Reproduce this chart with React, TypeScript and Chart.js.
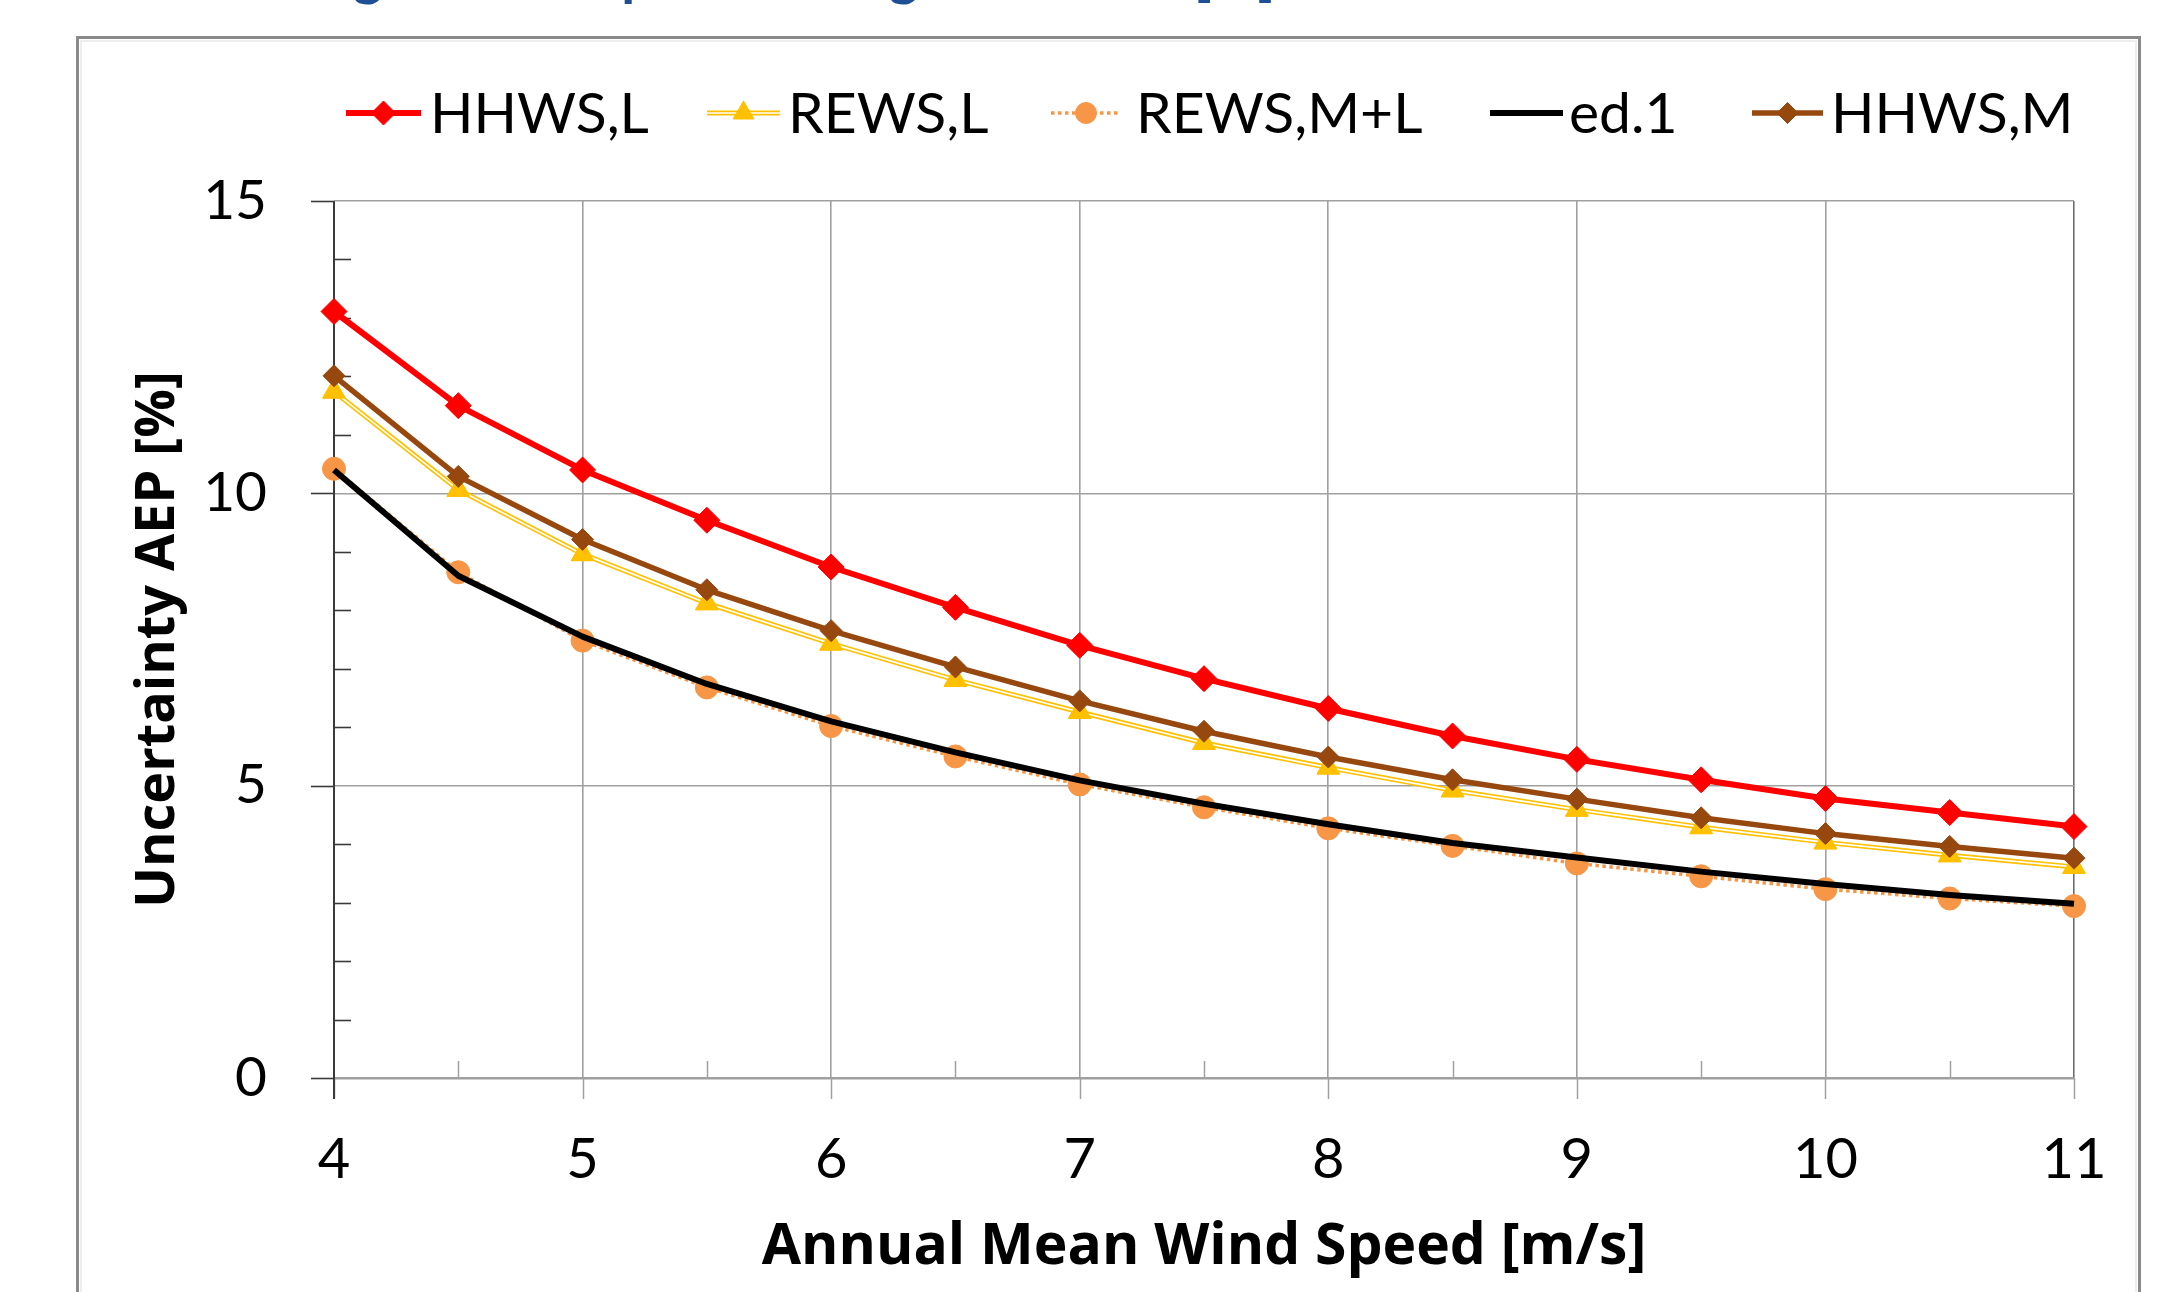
import React, { useEffect, useRef } from 'react';
import { Chart, registerables } from 'chart.js';

Chart.register(...registerables);

// ---------------- data ----------------
const windSpeed = [4, 4.5, 5, 5.5, 6, 6.5, 7, 7.5, 8, 8.5, 9, 9.5, 10, 10.5, 11];
const hhwsL = [13.11, 11.5, 10.4, 9.54, 8.74, 8.05, 7.4, 6.83, 6.32, 5.85, 5.45, 5.1, 4.78, 4.54, 4.3];
const rewsL = [11.74, 10.06, 8.96, 8.12, 7.43, 6.81, 6.26, 5.73, 5.31, 4.92, 4.59, 4.29, 4.03, 3.81, 3.61];
const rewsML = [10.42, 8.65, 7.48, 6.68, 6.02, 5.5, 5.02, 4.63, 4.27, 3.97, 3.67, 3.45, 3.23, 3.07, 2.94];
const ed1 = [10.4, 8.59, 7.55, 6.74, 6.1, 5.57, 5.09, 4.69, 4.34, 4.02, 3.77, 3.53, 3.32, 3.13, 2.98];
const hhwsM = [12.01, 10.29, 9.21, 8.35, 7.65, 7.03, 6.45, 5.93, 5.49, 5.1, 4.77, 4.45, 4.18, 3.96, 3.76];

const seriesLabels = ['HHWS,L', 'REWS,L', 'REWS,M+L', 'ed.1', 'HHWS,M'];
const seriesValues = [hhwsL, rewsL, rewsML, ed1, hhwsM];

const xTickValues = [4, 5, 6, 7, 8, 9, 10, 11];
const xMinorTickValues = [4.5, 5.5, 6.5, 7.5, 8.5, 9.5, 10.5];
const yTickValues = [0, 5, 10, 15];
const yMinorTickValues = [1, 2, 3, 4, 6, 7, 8, 9, 11, 12, 13, 14];

const xAxisTitle = 'Annual Mean Wind Speed [m/s]';
const yAxisTitle = 'Uncertainty AEP [%]';
const topTitle = 'Lidar testing of the impact of long-term AEP [%]';

// ---------------- styles / layout ----------------
const FONT = "Lato, 'Liberation Sans', sans-serif";
const TITLE_FONT = "'Open Sans', Lato, sans-serif";
const W = 2173;
const H = 1292;

type SeriesStyle = {
  color: string;
  width: number;
  dash: number[];
  point: string | false;
  radius: number;
  legendRadius: number;
  doubleLine?: boolean;
};

const STYLES: SeriesStyle[] = [
  { color: '#FF0000', width: 6, dash: [], point: 'rectRot', radius: 13, legendRadius: 12 },
  { color: '#FFC000', width: 5, dash: [], point: 'triangle', radius: 13, legendRadius: 12, doubleLine: true },
  { color: '#F79646', width: 3.5, dash: [3.5, 3.5], point: 'circle', radius: 11.5, legendRadius: 10.5 },
  { color: '#000000', width: 6, dash: [], point: false, radius: 0, legendRadius: 0 },
  { color: '#97480F', width: 5.5, dash: [], point: 'rectRot', radius: 11, legendRadius: 10.5 },
];
// drawing order: later legend entries on top
const DRAW_ORDER = [5, 4, 3, 2, 1];

const LEGEND_Y = 113;
const LEGEND_BASELINE = 133;
const LEGEND_LINES = [
  [346, 421],
  [707, 780],
  [1051, 1121],
  [1490, 1563],
  [1752, 1823],
];
const LEGEND_TEXT_X = [430, 788, 1136, 1569, 1831];

function drawMarker(ctx: CanvasRenderingContext2D, kind: string | false, x: number, y: number, r: number, color: string) {
  if (!kind || r <= 0) return;
  ctx.save();
  ctx.fillStyle = color;
  ctx.strokeStyle = color;
  ctx.lineWidth = 1;
  ctx.setLineDash([]);
  ctx.beginPath();
  if (kind === 'rectRot') {
    ctx.moveTo(x - r, y);
    ctx.lineTo(x, y - r);
    ctx.lineTo(x + r, y);
    ctx.lineTo(x, y + r);
    ctx.closePath();
  } else if (kind === 'triangle') {
    ctx.moveTo(x, y - r);
    ctx.lineTo(x + r * 0.866, y + r / 2);
    ctx.lineTo(x - r * 0.866, y + r / 2);
    ctx.closePath();
  } else {
    ctx.arc(x, y, r, 0, Math.PI * 2);
  }
  ctx.fill();
  ctx.stroke();
  ctx.restore();
}

const decorPlugin = {
  id: 'decor',
  beforeDraw(chart: any) {
    const ctx: CanvasRenderingContext2D = chart.ctx;
    ctx.save();
    ctx.fillStyle = '#ffffff';
    ctx.fillRect(0, 0, chart.width, chart.height);
    // outer frame
    ctx.strokeStyle = '#8a8a8a';
    ctx.lineWidth = 3;
    ctx.strokeRect(77.5, 37.5, 2139 - 77, 1400);
    ctx.strokeStyle = '#eeeeee';
    ctx.lineWidth = 2;
    ctx.strokeRect(81, 41, 2139 - 84, 1400);
    // cropped blue title above the frame
    const base = 60;
    ctx.font = `bold ${base}px ${FONT}`;
    const prefix = 'Lidar testin';
    const gW = ctx.measureText('g').width;
    const upToBracket = topTitle.slice(0, topTitle.indexOf('['));
    const dist = ctx.measureText(upToBracket).width - ctx.measureText(prefix).width - gW / 2;
    const size = (base * (1194 - 368)) / dist;
    ctx.font = `bold ${size}px ${FONT}`;
    const g2 = ctx.measureText('g');
    const x0 = 368 - ctx.measureText(prefix).width - g2.width / 2;
    const desc = g2.actualBoundingBoxDescent || size * 0.2;
    ctx.fillStyle = '#1E4F96';
    ctx.textBaseline = 'alphabetic';
    ctx.textAlign = 'left';
    ctx.fillText(topTitle, x0, 5 - desc);
    ctx.restore();
  },
  beforeDatasetsDraw(chart: any) {
    const ctx: CanvasRenderingContext2D = chart.ctx;
    const xs = chart.scales.x;
    const ys = chart.scales.y;
    const area = chart.chartArea;
    ctx.save();
    ctx.setLineDash([]);
    // y minor ticks (inside)
    ctx.strokeStyle = '#3a3a3a';
    ctx.lineWidth = 1.6;
    yMinorTickValues.forEach((v) => {
      const y = Math.round(ys.getPixelForValue(v)) + 0.5;
      ctx.beginPath();
      ctx.moveTo(area.left, y);
      ctx.lineTo(area.left + 17, y);
      ctx.stroke();
    });
    // y major ticks (outside)
    yTickValues.forEach((v) => {
      const y = Math.round(ys.getPixelForValue(v)) + 0.5;
      ctx.beginPath();
      ctx.moveTo(area.left - 23, y);
      ctx.lineTo(area.left, y);
      ctx.stroke();
    });
    // x ticks
    ctx.strokeStyle = '#a0a0a0';
    ctx.lineWidth = 1.5;
    xMinorTickValues.forEach((v) => {
      const x = Math.round(xs.getPixelForValue(v)) + 0.5;
      ctx.beginPath();
      ctx.moveTo(x, area.bottom);
      ctx.lineTo(x, area.bottom - 17);
      ctx.stroke();
    });
    xTickValues.forEach((v) => {
      const x = Math.round(xs.getPixelForValue(v)) + 0.5;
      ctx.beginPath();
      ctx.moveTo(x, area.bottom);
      ctx.lineTo(x, area.bottom + 21);
      ctx.stroke();
    });
    // y axis line
    ctx.strokeStyle = '#3a3a3a';
    ctx.lineWidth = 2;
    ctx.beginPath();
    ctx.moveTo(area.left, area.top);
    ctx.lineTo(area.left, area.bottom + 21);
    ctx.stroke();
    ctx.restore();
  },
  afterDatasetDraw(chart: any, args: any) {
    const idx = args.index;
    const st = STYLES[idx];
    if (!st || !st.doubleLine) return;
    const ctx: CanvasRenderingContext2D = chart.ctx;
    const pts = args.meta.data;
    ctx.save();
    ctx.strokeStyle = '#ffffff';
    ctx.lineWidth = 1.7;
    ctx.lineJoin = 'round';
    ctx.setLineDash([]);
    ctx.beginPath();
    pts.forEach((p: any, i: number) => (i ? ctx.lineTo(p.x, p.y) : ctx.moveTo(p.x, p.y)));
    ctx.stroke();
    ctx.restore();
    pts.forEach((p: any) => p.draw(ctx, chart.chartArea));
  },
  afterDraw(chart: any) {
    const ctx: CanvasRenderingContext2D = chart.ctx;
    ctx.save();
    seriesLabels.forEach((label, i) => {
      const st = STYLES[i];
      const [x1, x2] = LEGEND_LINES[i];
      ctx.save();
      ctx.strokeStyle = st.color;
      ctx.lineWidth = st.width;
      ctx.setLineDash(st.dash);
      ctx.lineCap = 'butt';
      ctx.beginPath();
      ctx.moveTo(x1, LEGEND_Y);
      ctx.lineTo(x2, LEGEND_Y);
      ctx.stroke();
      if (st.doubleLine) {
        ctx.strokeStyle = '#ffffff';
        ctx.lineWidth = 1.7;
        ctx.beginPath();
        ctx.moveTo(x1, LEGEND_Y);
        ctx.lineTo(x2, LEGEND_Y);
        ctx.stroke();
      }
      ctx.restore();
      drawMarker(ctx, st.point, (x1 + x2) / 2, LEGEND_Y, st.legendRadius, st.color);
      ctx.fillStyle = '#000000';
      ctx.font = `57px ${FONT}`;
      ctx.textBaseline = 'alphabetic';
      ctx.textAlign = 'left';
      ctx.fillText(label, LEGEND_TEXT_X[i], LEGEND_BASELINE);
    });
    ctx.restore();
  },
};

export default function App() {
  const canvasRef = useRef<HTMLCanvasElement | null>(null);

  useEffect(() => {
    const canvas = canvasRef.current;
    if (!canvas) return;
    const datasets = seriesLabels.map((label, i) => {
      const st = STYLES[i];
      return {
        label,
        data: windSpeed.map((x, k) => ({ x, y: seriesValues[i][k] })),
        borderColor: st.color,
        backgroundColor: st.color,
        borderWidth: st.width,
        borderDash: st.dash,
        borderCapStyle: 'butt' as const,
        borderJoinStyle: 'round' as const,
        tension: 0,
        fill: false,
        clip: false as const,
        order: DRAW_ORDER[i],
        pointStyle: st.point || 'circle',
        pointRadius: st.radius,
        pointHoverRadius: st.radius,
        pointBackgroundColor: st.color,
        pointBorderColor: st.color,
        pointBorderWidth: 1,
      };
    });

    const chart = new Chart(canvas, {
      type: 'line',
      data: { datasets: datasets as any },
      options: {
        responsive: false,
        animation: false,
        devicePixelRatio: 1,
        events: [],
        layout: { padding: { left: 124, top: 201, right: 99, bottom: 0 } },
        plugins: {
          legend: { display: false },
          tooltip: { enabled: false },
          title: { display: false },
        },
        scales: {
          x: {
            type: 'linear',
            min: 4,
            max: 11,
            afterBuildTicks: (s: any) => {
              s.ticks = xTickValues.map((value) => ({ value }));
            },
            afterFit: (s: any) => {
              s.height = H - 1078;
            },
            ticks: {
              padding: 48,
              color: '#000000',
              font: { family: FONT, size: 56 },
              maxRotation: 0,
              autoSkip: false,
              callback: (v: any) => String(v),
            },
            grid: {
              drawTicks: false,
              color: (c: any) => (c.tick && c.tick.value === 4 ? '#3a3a3a' : c.tick && c.tick.value === 11 ? '#6e6e6e' : '#a0a0a0'),
              lineWidth: (c: any) => (c.tick && c.tick.value === 4 ? 2 : 1.6),
            },
            border: { display: false },
            title: {
              display: true,
              text: xAxisTitle,
              color: '#000000',
              font: { family: TITLE_FONT, size: 57, weight: 'bold' },
              padding: { top: 0, bottom: 10 },
            },
          },
          y: {
            type: 'linear',
            min: 0,
            max: 15,
            afterBuildTicks: (s: any) => {
              s.ticks = yTickValues.map((value) => ({ value }));
            },
            afterFit: (s: any) => {
              s.width = 334 - 124;
            },
            ticks: {
              padding: 67,
              color: '#000000',
              font: { family: FONT, size: 55 },
              callback: (v: any) => String(v),
            },
            grid: {
              drawTicks: false,
              color: '#a0a0a0',
              lineWidth: (c: any) => (c.tick && c.tick.value === 0 ? 2.5 : 1.6),
            },
            border: { display: false },
            title: {
              display: true,
              text: yAxisTitle,
              color: '#000000',
              font: { family: TITLE_FONT, size: 54, weight: 'bold' },
              padding: { top: 2, bottom: 0 },
            },
          },
        },
      } as any,
      plugins: [decorPlugin as any],
    });

    return () => {
      chart.destroy();
    };
  }, []);

  return (
    <div style={{ position: 'fixed', left: 0, top: 0, width: W, height: H, background: '#ffffff' }}>
      <canvas ref={canvasRef} width={W} height={H} style={{ display: 'block', width: W, height: H }} />
    </div>
  );
}
